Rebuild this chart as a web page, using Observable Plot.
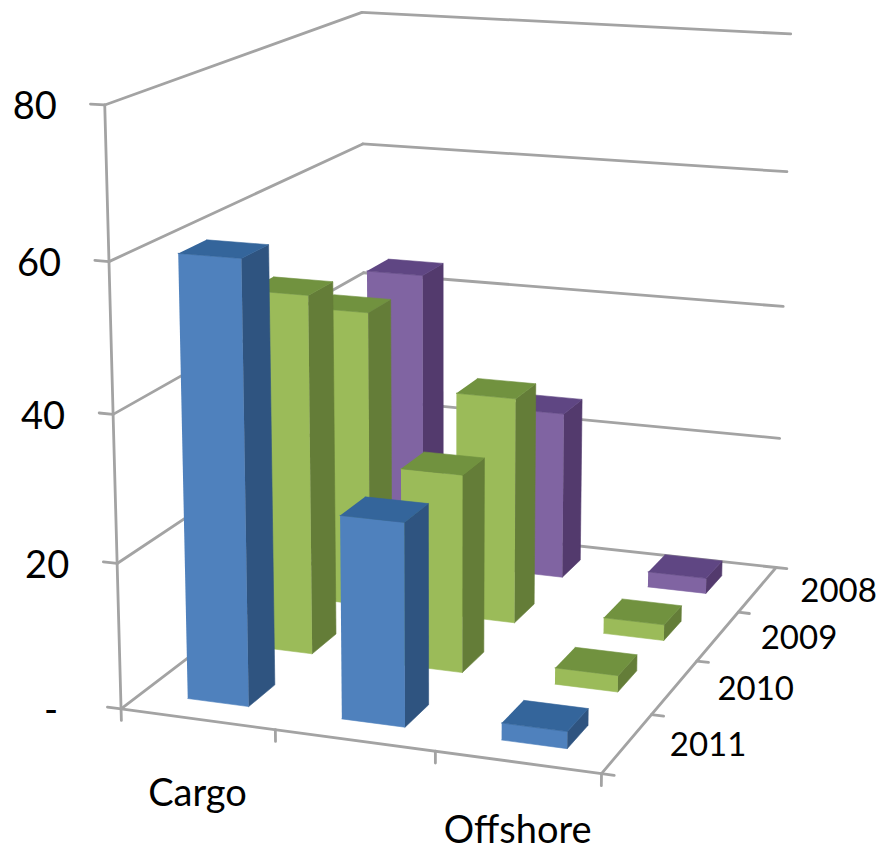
<!DOCTYPE html>
<html><head><meta charset="utf-8">
<style>html,body{margin:0;padding:0;background:#fff}svg{display:block}</style>
<script src="https://cdn.jsdelivr.net/npm/d3@7"></script>
<script src="https://cdn.jsdelivr.net/npm/@observablehq/plot@0.6"></script>
</head><body><div id="chart"></div>
<script>
const categories = ["Cargo", "", "Offshore"];
const series = ["2011", "2010", "2009", "2008"];
const values2011 = [60.2, 27.6, 2.3];
const values2010 = [50.6, 27.8, 2.3];
const values2009 = [43.3, 32.8, 2.3];
const values2008 = [44, 25, 2.3];
const valueTicks = [0, 20, 40, 60, 80];
const tickLabels = ["-", "20", "40", "60", "80"];
const yMax = 80;
const frontColors = ["#4f81bd", "#9bbb59", "#9bbb59", "#8064a2"];
const topColors = ["#34659b", "#71923f", "#71923f", "#5f4683"];
const sideColors = ["#2f5480", "#647d38", "#647d38", "#533a6d"];
const gridColor = "#a3a3a3";
const seriesValues = [values2011, values2010, values2009, values2008];

// Camera of the 3-D chart: box coordinates (u, v, w) against where they land on the page.
const camera = [
  [0,0,0,122,708],[1/3,0,0,275,730],[2/3,0,0,435,753],[1,0,0,600,772],
  [1,.25,0,652,713],[1,.5,0,697,660],[1,.75,0,738,612],[1,1,0,775,568],
  [0,0,1,105,105],[0,0,.75,108,262],[0,0,.5,111,413],[0,0,.25,116,562],
  [0,1,1,362,12],[1,1,1,790,33],[1,1,.75,787,172],[1,1,.5,783,305],[1,1,.25,778,438],[0,1,.75,362,143]
];
function solveCamera() {
  const n = 11, A = d3.range(n).map(() => new Array(n + 1).fill(0));
  const add = (r, b) => { for (let i = 0; i < n; i++) { for (let j = 0; j < n; j++) A[i][j] += r[i] * r[j]; A[i][n] += r[i] * b; } };
  for (const [u, v, w, x, y] of camera) {
    add([u,v,w,1,0,0,0,0,-x*u,-x*v,-x*w], x);
    add([0,0,0,0,u,v,w,1,-y*u,-y*v,-y*w], y);
  }
  for (let c = 0; c < n; c++) {
    let p = c; for (let r = c + 1; r < n; r++) if (Math.abs(A[r][c]) > Math.abs(A[p][c])) p = r;
    [A[c], A[p]] = [A[p], A[c]];
    for (let r = 0; r < n; r++) if (r !== c) { const f = A[r][c] / A[c][c]; for (let k = c; k <= n; k++) A[r][k] -= f * A[c][k]; }
  }
  return A.map((row, i) => row[n] / row[i]);
}
const P = solveCamera();
function project(u, v, w) {
  const d = P[8]*u + P[9]*v + P[10]*w + 1;
  return [(P[0]*u + P[1]*v + P[2]*w + P[3]) / d, (P[4]*u + P[5]*v + P[6]*w + P[7]) / d];
}

// Polygons and lines, in box coordinates
const polys = [], lines = [];
const addPoly = (id, color, pts) => pts.forEach(p => { const [x, y] = project(...p); polys.push({id, color, x, y}); });
const addLine = (id, a, b) => [a, b].forEach(p => { const [x, y] = project(...p); lines.push({id, x, y}); });

const nc = categories.length, ns = series.length;
const barLo = 0.3, barHi = 0.7;
for (let j = ns - 1; j >= 0; j--) {
  for (let i = 0; i < nc; i++) {
    const u0 = (i + barLo) / nc, u1 = (i + barHi) / nc;
    const v0 = (j + barLo) / ns, v1 = (j + barHi) / ns;
    const h = seriesValues[j][i] / yMax;
    addPoly(`f${i}${j}`, frontColors[j], [[u0,v0,0],[u1,v0,0],[u1,v0,h],[u0,v0,h]]);
    addPoly(`s${i}${j}`, sideColors[j], [[u1,v0,0],[u1,v1,0],[u1,v1,h],[u1,v0,h]]);
    addPoly(`t${i}${j}`, topColors[j], [[u0,v0,h],[u1,v0,h],[u1,v1,h],[u0,v1,h]]);
  }
}
// walls and floor
valueTicks.forEach(t => {
  const w = t / yMax;
  addLine(`wl${t}`, [-0.03,0,w], [0,0,w]);
  addLine(`wa${t}`, [0,0,w], [0,1,w]);
  addLine(`wb${t}`, [0,1,w], [1,1,w]);
});
addLine("axis", [0,0,-0.02], [0,0,1]);
addLine("front", [0,0,0], [1,0,0]);
addLine("right", [1,0,0], [1,1,0]);
d3.range(1, nc + 1).forEach(i => addLine(`cx${i}`, [i/nc,0,0], [i/nc,0,-0.02]));
d3.range(0, ns + 1).forEach(j => addLine(`sx${j}`, [1,j/ns,0], [1.025,j/ns,0]));

const valueLabels = valueTicks.map((t, i) => { const [x, y] = project(0,0,t/yMax); return {x, y, text: tickLabels[i]}; });
const catLabels = categories.map((c, i) => { const [x, y] = project((i+.5)/nc,0,0); return {x, y, text: c}; }).filter(d => d.text);
const serLabels = series.map((s, j) => { const [x, y] = project(1,(j+.5)/ns,0); return {x, y, text: s}; });

const font = "Lato, 'Open Sans', sans-serif";
const plot = Plot.plot({
  width: 879, height: 853, margin: 0,
  x: {type: "identity", axis: null},
  y: {type: "identity", axis: null},
  color: {type: "identity"},
  marks: [
    Plot.line(lines, {x: "x", y: "y", z: "id", stroke: gridColor, strokeWidth: 2.8, curve: "linear"}),
    Plot.line(polys, {x: "x", y: "y", z: "id", fill: "color", stroke: "color", strokeWidth: 0.6, curve: "linear"}),
    Plot.text(valueLabels, {x: "x", y: "y", text: "text", dx: -70, dy: 2, fontSize: 38, fill: "#000", fontFamily: font}),
    Plot.text(catLabels.slice(0, 1), {x: "x", y: "y", text: "text", dy: 75, fontSize: 38, fill: "#000", fontFamily: font}),
    Plot.text(catLabels.slice(1), {x: "x", y: "y", text: "text", dy: 69, fontSize: 38, fill: "#000", fontFamily: font}),
    Plot.text(serLabels, {x: "x", y: "y", text: "text", dx: 81, dy: 2, fontSize: 33, fill: "#000", fontFamily: font})
  ]
});
document.getElementById("chart").append(plot);
</script></body></html>
